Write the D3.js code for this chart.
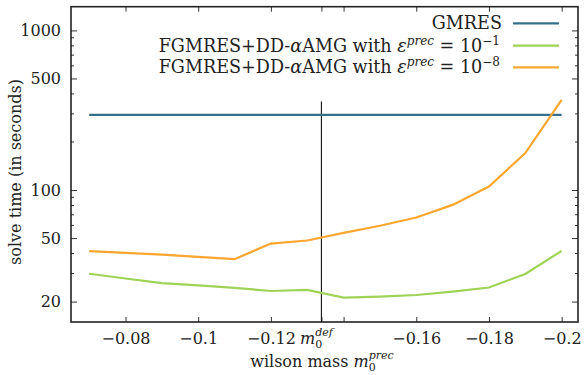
<!DOCTYPE html>
<html><head><meta charset="utf-8">
<script src="https://cdn.jsdelivr.net/npm/d3@7"></script>
<style>
body{margin:0;background:#fff;}
text{font-family:"DejaVu Serif",serif;fill:#222;}
</style></head>
<body><svg id="c" width="584" height="375"></svg>
<script>
const masses = [-0.07,-0.08,-0.09,-0.10,-0.11,-0.12,-0.13,-0.14,-0.15,-0.16,-0.17,-0.18,-0.19,-0.20];
const gmres  = [296,296,296,296,296,296,296,296,296,296,296,296,296,296];
const eps1   = [29.9,27.9,26.1,25.3,24.4,23.3,23.7,21.2,21.5,22.0,23.1,24.5,29.8,41.6];
const eps8   = [41.4,40.4,39.4,38.1,36.9,46.2,48.3,53.9,59.7,67.3,80.7,105.2,170.3,367.6];
const m0def = -0.1339;
const xTicks = [-0.08,-0.10,-0.12,-0.14,-0.16,-0.18,-0.20];
const xTickLabels = ["\u22120.08","\u22120.1","\u22120.12","","\u22120.16","\u22120.18","\u22120.2"];
const yTicks = [20,50,100,500,1000];
const yTickLabels = ["20","50","100","500","1000"];
const colors = ["#35708a","#9fd356","#ffa630"];

const svg = d3.select("#c");
const L=71,R=578,T=6.7,B=322;
const x = d3.scaleLinear().domain([-0.065,-0.2045]).range([L,R]);
const y = d3.scaleLog().domain([14.9,1408]).range([B,T]);
const FF="DejaVu Serif";
const fs=16, lfs=17.6;

// minor ticks
const minor=[];
for(let d=10;d<=1000;d*=10){for(let k=1;k<10;k++){const v=k*d;if(v>=15&&v<=1400&&!yTicks.includes(v))minor.push(v);}}
const g=svg.append("g");
minor.forEach(v=>{
  g.append("line").attr("x1",L).attr("x2",L+3).attr("y1",y(v)).attr("y2",y(v)).attr("stroke","#333").attr("stroke-width",1);
  g.append("line").attr("x1",R).attr("x2",R-3).attr("y1",y(v)).attr("y2",y(v)).attr("stroke","#333").attr("stroke-width",1);
});

// axes
const xb = svg.append("g").attr("transform",`translate(0,${B})`)
  .call(d3.axisBottom(x).tickValues(xTicks.concat([m0def])).tickSize(-5).tickPadding(11)
  .tickFormat((d,i)=> i<xTickLabels.length? xTickLabels[i]:""));
const xt = svg.append("g").attr("transform",`translate(0,${T})`)
  .call(d3.axisTop(x).tickValues(xTicks.concat([m0def])).tickSize(-5).tickFormat(""));
const yl = svg.append("g").attr("transform",`translate(${L},0)`)
  .call(d3.axisLeft(y).tickValues(yTicks).tickSize(-6).tickPadding(10).tickFormat((d,i)=>yTickLabels[i]));
const yr = svg.append("g").attr("transform",`translate(${R},0)`)
  .call(d3.axisRight(y).tickValues(yTicks).tickSize(-6).tickFormat(""));
[xb,xt,yl,yr].forEach(a=>{a.select(".domain").remove();a.selectAll(".tick line").attr("stroke","#333");
  a.selectAll("text").style("font-size",fs+"px").style("font-family",FF).attr("fill","#222");});

// frame
svg.append("rect").attr("x",L).attr("y",T).attr("width",R-L).attr("height",B-T)
  .attr("fill","none").attr("stroke","#222").attr("stroke-width",1.6);

// m0def vertical line
svg.append("line").attr("x1",x(m0def)).attr("x2",x(m0def)).attr("y1",101.5).attr("y2",B)
  .attr("stroke","#111").attr("stroke-width",1.1);

// series
const line=d3.line().x((d,i)=>x(masses[i])).y(d=>y(d));
[[gmres,colors[0]],[eps1,colors[1]],[eps8,colors[2]]].forEach(([s,c])=>{
  svg.append("path").datum(s).attr("d",line).attr("fill","none").attr("stroke",c).attr("stroke-width",2.2);
});

// m0def label
const ml = svg.append("text").attr("x",300).attr("y",344).style("font-size",fs+"px");
ml.append("tspan").attr("font-style","italic").text("m");
ml.append("tspan").attr("dy",4).style("font-size","11px").text("0");
ml.append("tspan").attr("dx",-7).attr("dy",-12).attr("font-style","italic").style("font-size","11px").text("def");

// x label
const xlab = svg.append("text").attr("x",322).attr("y",367).attr("text-anchor","middle").style("font-size",fs+"px");
xlab.append("tspan").text("wilson mass ");
xlab.append("tspan").attr("font-style","italic").text("m");
xlab.append("tspan").attr("dy",4).style("font-size","11px").text("0");
xlab.append("tspan").attr("dx",-7).attr("dy",-12).attr("font-style","italic").style("font-size","11px").text("prec");

// y label
svg.append("text").attr("transform","translate(21,172) rotate(-90)").attr("text-anchor","middle")
  .style("font-size",fs+"px").text("solve time (in seconds)");

// legend
const legY=[23.3,45.7,67.3];
legY.forEach((ly,i)=>{
  svg.append("line").attr("x1",513).attr("x2",559).attr("y1",ly).attr("y2",ly).attr("stroke",colors[i]).attr("stroke-width",2.2);
});
svg.append("text").attr("x",502).attr("y",legY[0]+6).attr("text-anchor","end").style("font-size",lfs+"px").text("GMRES");
["\u22121","\u22128"].forEach((ex,i)=>{
  const t=svg.append("text").attr("x",500).attr("y",legY[i+1]+6).attr("text-anchor","end").style("font-size",lfs+"px");
  t.append("tspan").text("FGMRES+DD-");
  t.append("tspan").attr("font-style","italic").text("\u03b1");
  t.append("tspan").text("AMG with ");
  t.append("tspan").attr("font-style","italic").text("\u03b5");
  t.append("tspan").attr("dy",-7).attr("font-style","italic").style("font-size","12px").text("prec");
  t.append("tspan").attr("dy",7).text(" = 10");
  t.append("tspan").attr("dy",-7).style("font-size","12px").text(ex);
});
</script></body></html>
